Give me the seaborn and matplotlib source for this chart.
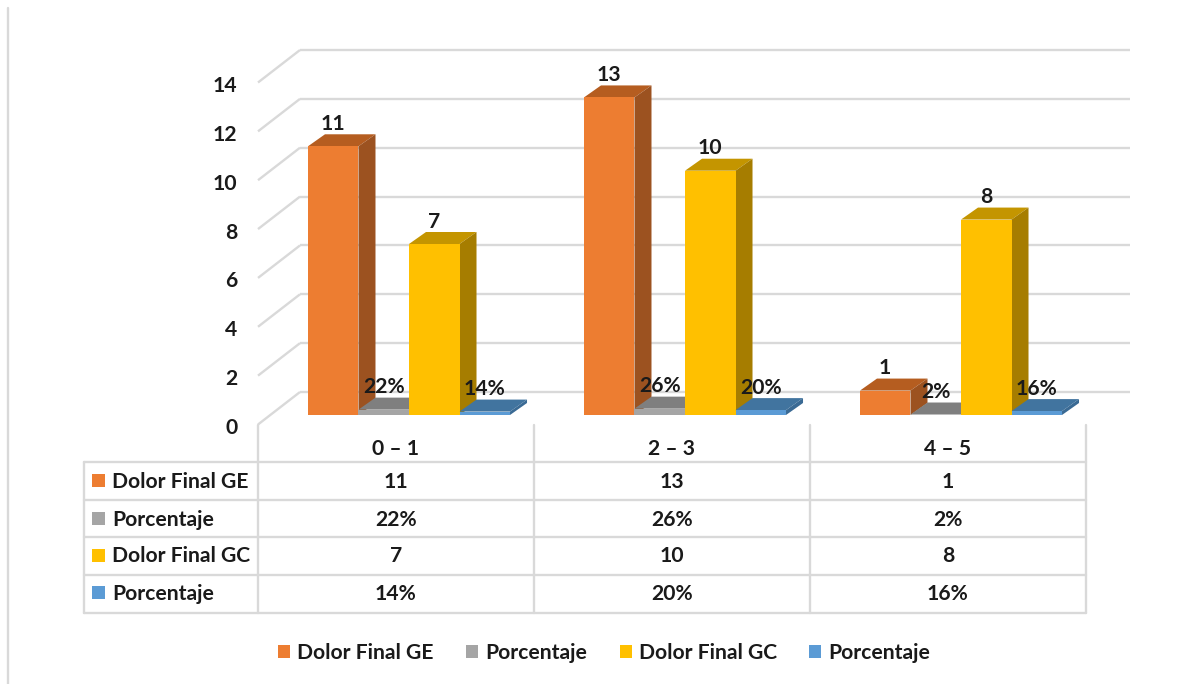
import matplotlib
matplotlib.use("Agg")
import matplotlib.pyplot as plt
from matplotlib.lines import Line2D
from matplotlib.patches import Patch, Polygon, Rectangle
from matplotlib.transforms import ScaledTranslation
import pandas as pd
import seaborn as sns

categories = ["0 – 1", "2 – 3", "4 – 5"]
series_names = ["Dolor Final GE", "Porcentaje", "Dolor Final GC", "Porcentaje"]
dolor_ge = [11, 13, 1]
pct_ge = [22, 26, 2]
dolor_gc = [7, 10, 8]
pct_gc = [14, 20, 16]
y_ticks = [0, 2, 4, 6, 8, 10, 12, 14]

front_colors = ["#ed7d31", "#a5a5a5", "#ffc000", "#5b9bd5"]
top_colors = ["#b55d20", "#7f7f7f", "#c49500", "#41749f"]
side_colors = ["#9c5220", "#6e6e6e", "#a67d00", "#3a6a94"]
grid_color = "#d9d9d9"
text_color = "#1a1a1a"

W, H = 1184, 684
sns.set_theme(style="white")
plt.rcParams["font.family"] = ["Lato", "DejaVu Sans"]
plt.rcParams["font.weight"] = "bold"
fs = 15.2

df = pd.DataFrame({
    "rango": categories * 4,
    "serie": ["a"] * 3 + ["b"] * 3 + ["c"] * 3 + ["d"] * 3,
    "valor": dolor_ge + [p / 100 for p in pct_ge] + dolor_gc + [p / 100 for p in pct_gc],
})

fig = plt.figure(figsize=(W / 100, H / 100), dpi=100, facecolor="white")
# bars sit on this plane, the 3d look is added around it
ax = fig.add_axes([271 / W, 1 - 415 / H, 828 / W, 342 / H])
ax.patch.set_alpha(0)
sns.barplot(data=df, x="rango", y="valor", hue="serie", hue_order=["a", "b", "c", "d"],
            palette=front_colors, width=0.732, gap=0, saturation=1, legend=False, ax=ax,
            edgecolor="none", linewidth=0)
ax.set_xlim(-0.5, 2.5)
ax.set_ylim(0, 14)
ax.set_xlabel("")
ax.set_ylabel("")
sns.despine(ax=ax, left=True, bottom=True)

px_x = 3 / 828
px_y = 14 / 342
dep_x, dep_y = 17 * px_x, 12 * px_y  # bar depth

# back wall and left wall lines
for v in y_ticks:
    y_front = v - 9.5 * px_y
    y_back = v + 23 * px_y
    ax.plot([-0.5 - 13 * px_x, -0.5 + 29 * px_x], [y_front, y_back], color=grid_color, lw=1.7,
            clip_on=False, zorder=1, solid_capstyle="butt")
    ax.plot([-0.5 + 29 * px_x, 2.5 + 31 * px_x], [y_back, y_back], color=grid_color, lw=1.7,
            clip_on=False, zorder=1, solid_capstyle="butt")

# top and side faces from the bars seaborn drew
for s, cont in enumerate(ax.containers):
    for c, bar in enumerate(cont):
        x0, x1 = bar.get_x(), bar.get_x() + bar.get_width()
        top = bar.get_height()
        z = 3 + c * 10 + s * 2
        bar.set_zorder(z + 1)
        bar.set_clip_on(False)
        ax.add_patch(Polygon([(x0, top), (x1, top), (x1 + dep_x, top + dep_y), (x0 + dep_x, top + dep_y)],
                             closed=True, fc=top_colors[s], ec="none", zorder=z, clip_on=False))
        ax.add_patch(Polygon([(x1, 0), (x1 + dep_x, dep_y), (x1 + dep_x, top + dep_y), (x1, top)],
                             closed=True, fc=side_colors[s], ec="none", zorder=z, clip_on=False))

# data labels
bar_labels = [[str(v) for v in dolor_ge], [f"{p}%" for p in pct_ge],
              [str(v) for v in dolor_gc], [f"{p}%" for p in pct_gc]]
for cont, labs in zip(ax.containers, bar_labels):
    for t in ax.bar_label(cont, labels=labs, padding=16, fontsize=fs,
                          fontweight="bold", color=text_color):
        t.set_verticalalignment("center")
        t.set_zorder(60)

# axis labels
ax.set_yticks(y_ticks)
ax.set_xticks(range(3))
ax.set_xticklabels(categories)
ax.tick_params(axis="both", length=0, labelcolor=text_color, labelsize=fs)
ax.tick_params(axis="y", pad=24)
ax.tick_params(axis="x", pad=17.5)
shift_y = ScaledTranslation(0, -11 / 100, fig.dpi_scale_trans)
shift_x = ScaledTranslation(-13 / 100, 0, fig.dpi_scale_trans)
for lab in ax.get_yticklabels():
    lab.set_transform(lab.get_transform() + shift_y)
for lab in ax.get_xticklabels():
    lab.set_transform(lab.get_transform() + shift_x)


def fx(x):
    return x / W


def fy(y):
    return 1 - y / H


def vline(x, y0, y1):
    fig.add_artist(Line2D([fx(x), fx(x)], [fy(y0), fy(y1)], color=grid_color, lw=1.7))


def hline(x0, x1, y):
    fig.add_artist(Line2D([fx(x0), fx(x1)], [fy(y), fy(y)], color=grid_color, lw=1.7))


# data table under the chart
row_lines = [461.5, 499.5, 537, 575, 612.5]
col_lines = [258, 534, 810, 1086]
for y in row_lines:
    hline(84, 1086, y)
vline(84, 461.5, 612.5)
for x in col_lines:
    vline(x, 425, 612.5)

table_rows = [[str(v) for v in dolor_ge], [f"{p}%" for p in pct_ge],
              [str(v) for v in dolor_gc], [f"{p}%" for p in pct_gc]]
row_y = [480, 518, 555, 592]
for name, color, vals, y in zip(series_names, front_colors, table_rows, row_y):
    fig.add_artist(Rectangle((fx(92), fy(y + 6.5)), 13 / W, 13 / H, transform=fig.transFigure,
                             fc=color, ec="none"))
    fig.text(fx(112), fy(y + 1.5), name, fontsize=fs, color=text_color, va="center", ha="left")
    for v, x in zip(vals, [396, 672, 948]):
        fig.text(fx(x), fy(y + 1.5), v, fontsize=fs, color=text_color, va="center", ha="center")

# legend
handles = [Patch(fc=c, ec="none") for c in front_colors]
fig.legend(handles, series_names, ncol=4, loc="center", bbox_to_anchor=(fx(604), fy(653)),
           frameon=False, fontsize=fs, labelcolor=text_color, handlelength=0.57, handleheight=0.6,
           handletextpad=0.33, columnspacing=1.55)

# left border of the picture
vline(8, 8, 684)

fig.savefig("out.png", dpi=100)
